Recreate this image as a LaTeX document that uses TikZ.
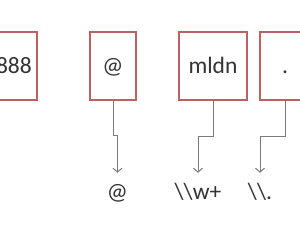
\documentclass[tikz,border=0pt]{standalone}
\usepackage{fontspec}
\setmainfont{Carlito}
\usetikzlibrary{arrows.meta,positioning}
\definecolor{boxred}{HTML}{BA6262}
\definecolor{lngray}{HTML}{7A7A7A}
\definecolor{txtgray}{HTML}{333333}

\begin{document}
\begin{tikzpicture}[
x=1pt,y=-1pt,
every node/.style={font=\fontsize{23.5}{28}\selectfont,text=txtgray},
tok/.style={draw=boxred,line width=1.7pt,fill=white,minimum height=68pt,text height=16pt,text depth=0pt,inner sep=0pt},
pat/.style={inner sep=0pt,text height=16pt,text depth=0pt,anchor=base},
arr/.style={-{Straight Barb[length=4pt,width=9pt]},line width=1pt,color=lngray,shorten >=11pt}
]
\useasboundingbox (0,0) rectangle (300,240);
% token boxes
\node[tok,minimum width=70pt] (b1) at (2,66) {};
\node[anchor=base east,inner sep=0pt] (t1) at (32,74) {888};
\node[tok,minimum width=46pt] (b2) at (113,66) {@};
\node[tok,minimum width=68pt] (b3) at (213,66) {mldn};
\node[tok,minimum width=50pt] (b4) at (285,66) {.};
% patterns
\node[pat] (p2) at (117.5,200) {@};
\node[pat] (p3) at (198,200) {\textbackslash\textbackslash w+};
\node[pat] (p4) at (260,200) {\textbackslash\textbackslash.};
\draw[arr] (b2.south) -- ++(0,35) -| (p2.north);
\draw[arr] (b3.south) -- ++(0,36) -| (p3.north);
\draw[arr] (b4.south) -- ++(0,36) -| (p4.north);
\end{tikzpicture}
\end{document}
